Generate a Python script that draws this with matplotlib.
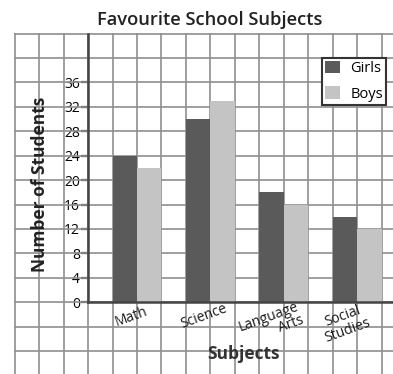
import matplotlib
matplotlib.use("Agg")
import matplotlib.pyplot as plt
from matplotlib.ticker import MultipleLocator
import numpy as np

plt.rcParams['font.family'] = ['Open Sans', 'DejaVu Sans']

# ---- data ----
subjects = ["Math", "Science", "Language\nArts", "Social\nStudies"]
girls = [24, 30, 18, 14]
boys = [22, 33, 16, 12]
series_names = ["Girls", "Boys"]
y_ticks = [0, 4, 8, 12, 16, 20, 24, 28, 32, 36]
title = "Favourite School Subjects"
x_title = "Subjects"
y_title = "Number of Students"

W, H = 393, 374
fig = plt.figure(figsize=(W / 100, H / 100), dpi=100)
fig.patch.set_facecolor("white")

# axes covers whole graph-paper region
ax = fig.add_axes([14 / W, 0, 1 - 14 / W, 1 - 33 / H])
ax.set_xlim(-3.03, 12.47)
ax.set_ylim(-11.76, 44.1)

centers = np.array([2, 5, 8, 11])
girl_col = "#5a5a5a"
boy_col = "#c4c4c4"
ax.bar(centers - 0.5, girls, width=1.0, color=girl_col, label=series_names[0], zorder=3)
ax.bar(centers + 0.5, boys, width=1.0, color=boy_col, label=series_names[1], zorder=3)

# graph-paper grid
grid_col = "#8f8f8f"
ax.xaxis.set_minor_locator(MultipleLocator(1))
ax.yaxis.set_minor_locator(MultipleLocator(4))
ax.yaxis.remove_overlapping_locs = False
ax.grid(which="minor", color=grid_col, linewidth=1.2, zorder=0)
ax.grid(which="major", visible=False)
ax.set_axisbelow(True)
ax.tick_params(which="minor", length=0)

ax.set_xticks([])
ax.set_yticks(y_ticks)
ax.set_yticklabels([str(v) for v in y_ticks], fontsize=10.5, fontweight="bold", color="#222")
ax.tick_params(axis="y", which="major", direction="out", length=5, width=1.6, color="#333", pad=1)

for s in ["top", "right"]:
    ax.spines[s].set_visible(False)
ax.spines["left"].set_position(("data", 0))
ax.spines["left"].set_bounds(0, 44)
ax.spines["bottom"].set_position(("data", 0))
ax.spines["bottom"].set_bounds(0, 12.47)
for s in ["left", "bottom"]:
    ax.spines[s].set_color("#444")
    ax.spines[s].set_linewidth(1.8)
    ax.spines[s].set_zorder(4)

# category labels (rotated, hand-lettered look)
align = ["center", "center", "right", "center"]
for c, lab, al in zip(centers, subjects, align):
    two = "\n" in lab
    ax.text(c - 0.25 - (0.25 if two else 0), -3.5 if two else -2.4, lab, rotation=20,
            ha="center", va="center", multialignment=al, fontsize=10,
            linespacing=0.95, color="#1a1a1a", zorder=5)

fig.text(210 / W, 1 - 20 / H, title, ha="center", va="center", fontsize=13.2,
         fontweight="semibold", color="#222")
fig.text(243 / W, 1 - 354 / H, x_title, ha="center", va="center", fontsize=12.5,
         fontweight="bold", color="#333")
fig.text(40 / W, 1 - 184 / H, y_title, ha="center", va="center", rotation=90,
         fontsize=12.5, fontweight="bold", color="#222")

leg = ax.legend(loc="upper left", bbox_to_anchor=((322 - 14) / (W - 14), 1 - (58 - 33) / (H - 33)),
                frameon=True, fancybox=False, framealpha=1, edgecolor="#333",
                fontsize=10.5, handlelength=1.05, handleheight=0.95, labelspacing=0.7,
                handletextpad=0.7, borderpad=0.2, borderaxespad=0)
leg.get_frame().set_linewidth(1.5)

fig.savefig("out.png", dpi=100, facecolor="white")
